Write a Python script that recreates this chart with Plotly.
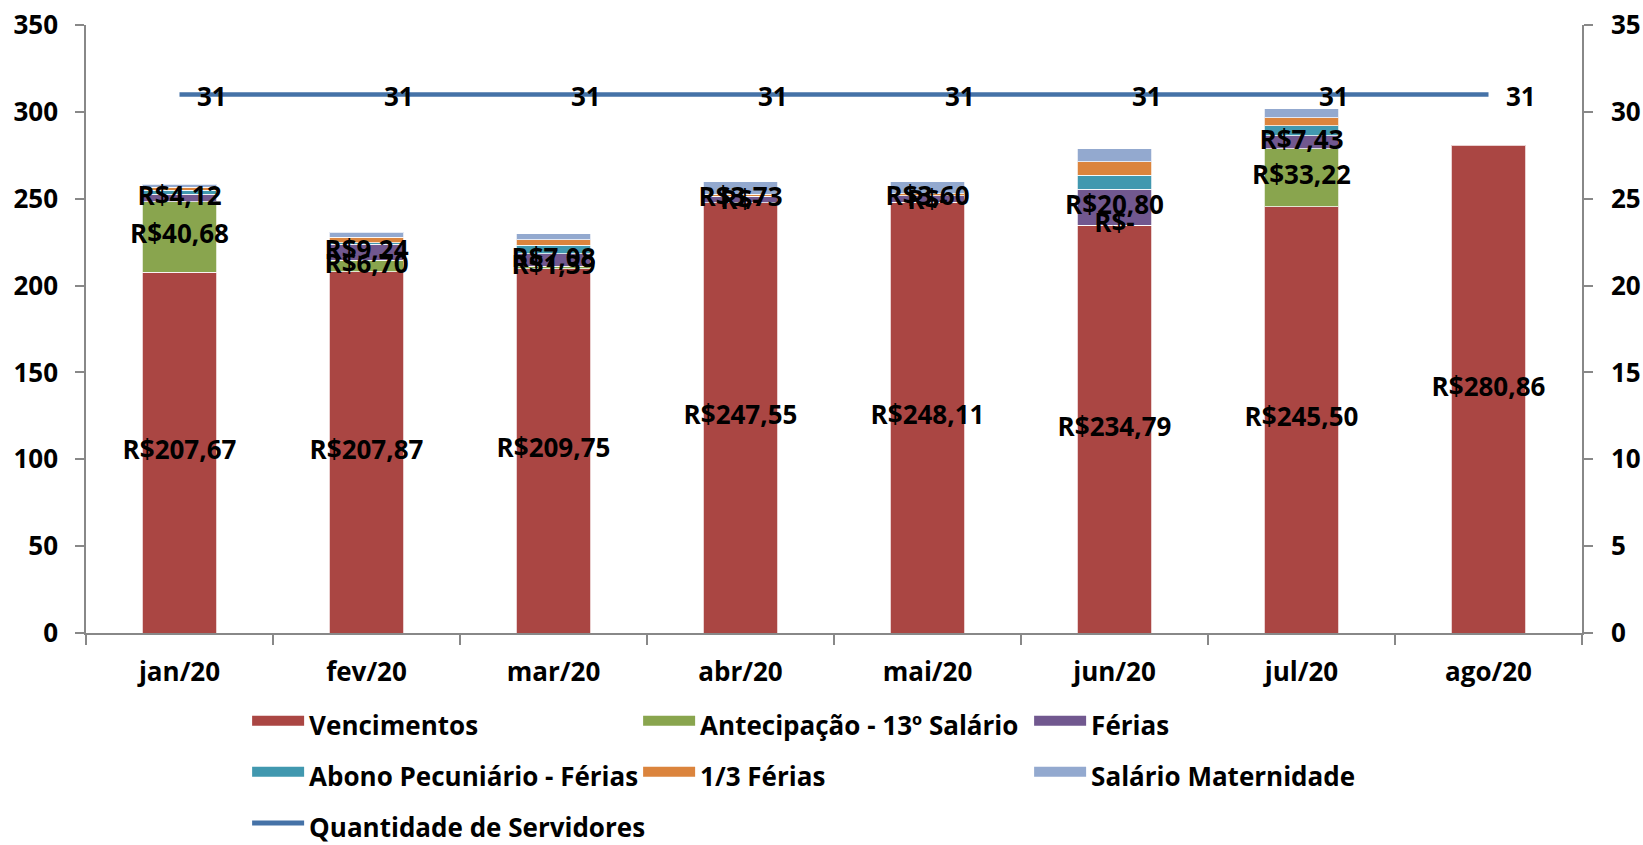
import numpy as np
import plotly.graph_objects as go

# ---------------- data ----------------
categories = ["jan/20", "fev/20", "mar/20", "abr/20", "mai/20", "jun/20", "jul/20", "ago/20"]
vencimentos = [207.67, 207.87, 209.75, 247.55, 248.11, 234.79, 245.50, 280.86]
antecipacao = [40.68, 6.70, 1.39, 0.0, 0.0, 0.0, 33.22, None]
ferias = [4.12, 9.24, 7.08, 3.73, 3.60, 20.80, 7.43, None]
abono = [2.4, 0.8, 4.95, 0.0, 0.0, 8.06, 5.76, None]
terco_ferias = [1.8, 3.2, 3.3, 1.2, 1.15, 7.5, 4.6, None]
salario_maternidade = [1.8, 2.8, 3.3, 7.3, 6.9, 7.66, 5.4, None]
servidores = [31, 31, 31, 31, 31, 31, 31, 31]

series_names = ["Vencimentos", "Antecipação - 13º Salário", "Férias",
                "Abono Pecuniário - Férias", "1/3 Férias", "Salário Maternidade"]
series_values = [vencimentos, antecipacao, ferias, abono, terco_ferias, salario_maternidade]
series_colors = ["#AA4643", "#89A54E", "#71588F", "#4198AF", "#DB843D", "#93A9CF"]
line_name = "Quantidade de Servidores"
line_color = "#4572A7"
labelled_series = 3  # first three series carry data labels

FONT = "Open Sans"
FS = 26


def brl(v):
    if v is None or (isinstance(v, float) and np.isnan(v)):
        return ""
    if v == 0:
        return "R$-"
    return "R$" + f"{v:.2f}".replace(".", ",")


def leg_name(n):
    return f'<span style="font-size:{FS}px">{n}</span>'


fig = go.Figure()

for name, vals, col in zip(series_names, series_values, series_colors):
    fig.add_trace(go.Bar(
        x=categories, y=vals, name=leg_name(name), legendgroup=name, showlegend=False,
        marker=dict(color=col, line=dict(color="rgba(255,255,255,0.75)", width=1)),
        width=0.4, hoverinfo="skip",
    ))

# data labels centred in the segments of the first three series
arr = np.array([[np.nan if v is None else v for v in s] for s in series_values])
base = np.zeros(len(categories))
for i in range(labelled_series):
    vals = arr[i]
    mid = base + np.nan_to_num(vals) / 2
    texts = [brl(v) for v in series_values[i]]
    ys = [m if t else None for m, t in zip(mid, texts)]
    fig.add_trace(go.Scatter(
        x=categories, y=ys, mode="text", text=texts, showlegend=False,
        textfont=dict(family=FONT, size=FS, color="black", weight="bold"),
        hoverinfo="skip", cliponaxis=False,
    ))
    base = base + np.nan_to_num(vals)

fig.add_trace(go.Scatter(
    x=categories, y=servidores, yaxis="y2", mode="lines",
    name=leg_name(line_name), showlegend=False, legendgroup=line_name,
    line=dict(color=line_color, width=4.5), hoverinfo="skip",
))

# legend entries (rectangular swatches like the original)
for name, col in zip(series_names, series_colors):
    fig.add_trace(go.Scatter(
        x=[None], y=[None], mode="lines", name=leg_name(name), legendgroup=name,
        line=dict(color=col, width=16), hoverinfo="skip",
    ))
fig.add_trace(go.Scatter(
    x=[None], y=[None], yaxis="y2", mode="lines", name=leg_name(line_name),
    legendgroup=line_name, line=dict(color=line_color, width=5), hoverinfo="skip",
))

for c, v in zip(categories, servidores):
    fig.add_annotation(
        x=c, y=v, xref="x", yref="y2", text=str(v), showarrow=False,
        xanchor="left", yanchor="middle", xshift=15, yshift=-2,
        font=dict(family=FONT, size=FS, color="black", weight="bold"),
    )

axis_col = "#888888"
tickfont = dict(family=FONT, size=FS, color="black", weight="bold")

fig.update_layout(
    width=1643, height=845,
    margin=dict(l=86, r=61, t=25, b=212, autoexpand=False),
    paper_bgcolor="white", plot_bgcolor="white",
    barmode="stack",
    font=dict(family=FONT, size=FS, color="black", weight="bold"),
    xaxis=dict(
        type="category", showline=True, linecolor=axis_col, linewidth=1.5,
        ticks="outside", tickson="boundaries", ticklen=10, tickcolor=axis_col, tickwidth=1.5,
        tickfont=tickfont, showgrid=False, zeroline=False, ticklabelstandoff=15,
    ),
    yaxis=dict(
        range=[0, 350], dtick=50, showline=True, linecolor=axis_col, linewidth=1.5,
        ticks="outside", ticklen=9, tickcolor=axis_col, tickwidth=1.5,
        tickfont=tickfont, showgrid=False, zeroline=False, ticklabelstandoff=12,
    ),
    yaxis2=dict(
        range=[0, 35], dtick=5, overlaying="y", side="right", showline=True,
        linecolor=axis_col, linewidth=1.5, ticks="outside", ticklen=9,
        tickcolor=axis_col, tickwidth=1.5, tickfont=tickfont, showgrid=False,
        zeroline=False, ticklabelstandoff=13,
    ),
    legend=dict(
        orientation="h", traceorder="normal", x=0.1077, xanchor="left",
        y=-0.094, yanchor="top", entrywidth=324, entrywidthmode="pixels",
        itemwidth=52,
        font=dict(family=FONT, size=37, color="black", weight="bold"),
        bgcolor="rgba(0,0,0,0)", itemclick=False, itemdoubleclick=False,
    ),
    showlegend=True,
)

fig.write_html("out.html", config={"displayModeBar": False},
               post_script="document.body.style.margin='0';")
